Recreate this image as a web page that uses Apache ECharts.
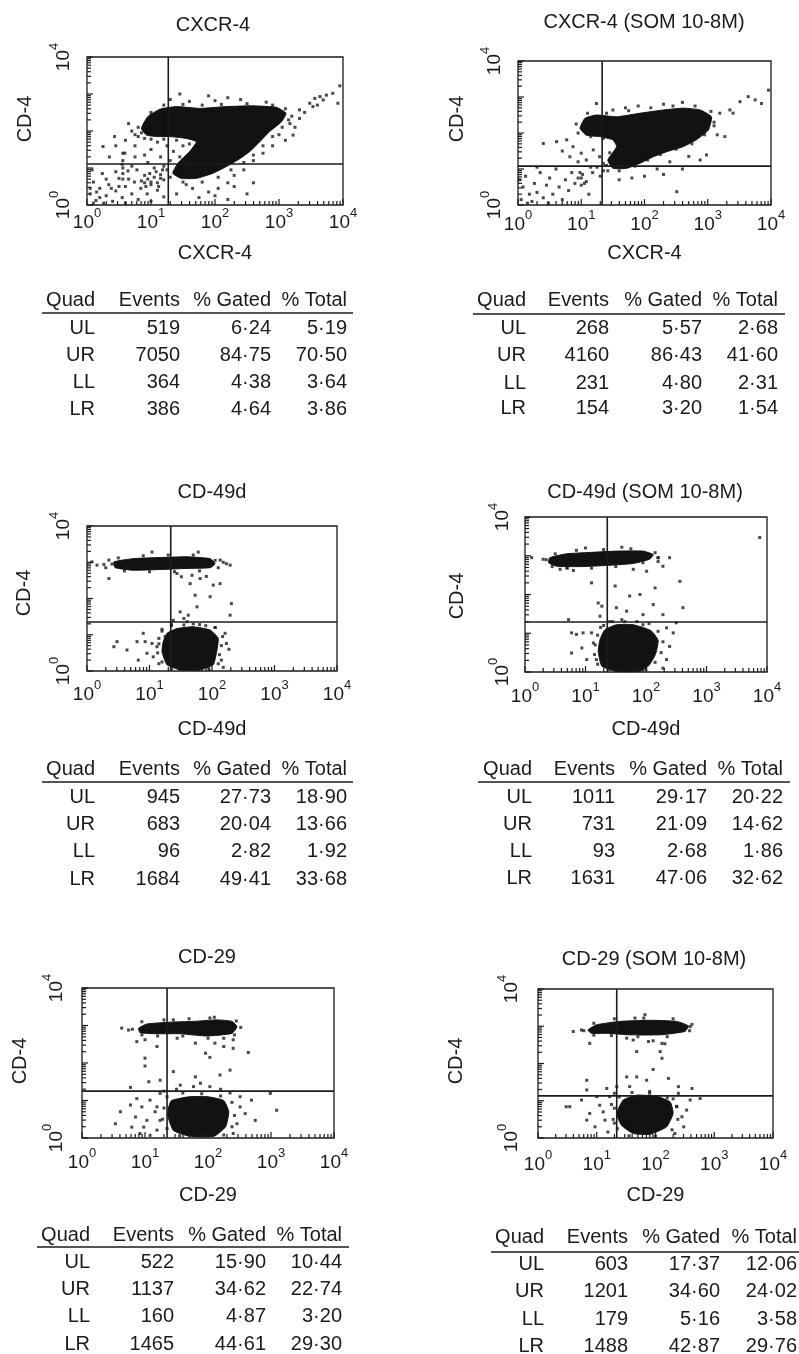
<!DOCTYPE html>
<html>
<head>
<meta charset="utf-8">
<title>CD-4 quadrant plots</title>
<script src="https://cdn.jsdelivr.net/npm/echarts@6/dist/echarts.min.js"></script>
<style>
  html, body { margin: 0; padding: 0; background: #fff; }
  #chart { width: 799px; height: 1354px; }
</style>
</head>
<body>
<div id="chart"></div>
<script>
// panel texts
const titles = ['CXCR-4', 'CXCR-4 (SOM 10-8M)', 'CD-49d', 'CD-49d (SOM 10-8M)', 'CD-29', 'CD-29 (SOM 10-8M)'];
const xNames = ['CXCR-4', 'CXCR-4', 'CD-49d', 'CD-49d', 'CD-29', 'CD-29'];
const yName = 'CD-4';

// quadrant tables
const tableHeader = ['Quad', 'Events', '% Gated', '% Total'];
const quadLabels = ['UL', 'UR', 'LL', 'LR'];
const quadEvents = [
  [519, 7050, 364, 386],
  [268, 4160, 231, 154],
  [945, 683, 96, 1684],
  [1011, 731, 93, 1631],
  [522, 1137, 160, 1465],
  [603, 1201, 179, 1488]
];
const pctGated = [
  [6.24, 84.75, 4.38, 4.64],
  [5.57, 86.43, 4.80, 3.20],
  [27.73, 20.04, 2.82, 49.41],
  [29.17, 21.09, 2.68, 47.06],
  [15.90, 34.62, 4.87, 44.61],
  [17.37, 34.60, 5.16, 42.87]
];
const pctTotal = [
  [5.19, 70.50, 3.64, 3.86],
  [2.68, 41.60, 2.31, 1.54],
  [18.90, 13.66, 1.92, 33.68],
  [20.22, 14.62, 1.86, 32.62],
  [10.44, 22.74, 3.20, 29.30],
  [12.06, 24.02, 3.58, 29.76]
];

// quadrant gates, in decades (log10 of the intensity)
const gateX = [1.27, 1.33, 1.34, 1.36, 1.35, 1.34];
const gateY = [1.11, 1.08, 1.35, 1.29, 1.25, 1.13];

// dense regions (outlines, decades)
const coresCxcr4 = [
  [[0.85,2.07],[0.95,2.39],[1.14,2.59],[1.40,2.66],[1.76,2.61],[2.18,2.66],[2.59,2.68],[2.96,2.64],[3.11,2.48],[3.04,2.25],[2.85,1.98],[2.70,1.71],[2.54,1.44],[2.36,1.22],[2.18,1.04],[1.97,0.86],[1.71,0.72],[1.47,0.72],[1.34,0.86],[1.42,1.13],[1.60,1.44],[1.71,1.71],[1.55,1.80],[1.29,1.85],[1.08,1.85],[0.93,1.89]]
];
const coresCxcr4Som = [
  [[0.98,2.13],[1.06,2.41],[1.24,2.50],[1.56,2.45],[1.93,2.55],[2.30,2.64],[2.61,2.69],[2.88,2.64],[3.06,2.45],[3.01,2.08],[2.82,1.81],[2.61,1.62],[2.35,1.48],[2.14,1.34],[1.93,1.16],[1.72,1.02],[1.50,1.02],[1.42,1.25],[1.56,1.62],[1.50,1.81],[1.29,1.90],[1.08,1.94]]
];
const coresCd49d = [
  [[0.43,3.01],[0.74,3.10],[1.17,3.13],[1.60,3.15],[1.97,3.10],[2.05,2.96],[1.97,2.85],[1.60,2.83],[1.17,2.80],[0.74,2.78],[0.45,2.85]],
  [[1.28,1.04],[1.44,1.17],[1.70,1.22],[1.97,1.13],[2.10,0.90],[2.07,0.49],[2.02,0.17],[1.81,0.03],[1.49,0.03],[1.28,0.17],[1.20,0.53],[1.22,0.81]]
];
const coresCd49dSom = [
  [[0.41,2.95],[0.69,3.05],[1.13,3.09],[1.51,3.12],[1.95,3.12],[2.12,3.03],[2.06,2.91],[1.79,2.80],[1.35,2.75],[0.91,2.72],[0.52,2.73],[0.39,2.82]],
  [[1.32,1.09],[1.51,1.22],[1.79,1.22],[2.08,1.07],[2.20,0.82],[2.16,0.47],[2.05,0.17],[1.90,0.02],[1.51,0.02],[1.27,0.15],[1.21,0.53],[1.24,0.84]]
];
const coresCd29 = [
  [[0.90,2.93],[1.03,3.04],[1.40,3.09],[1.77,3.11],[2.14,3.15],[2.38,3.11],[2.46,2.97],[2.38,2.79],[1.98,2.72],[1.56,2.78],[1.19,2.78],[0.92,2.81]],
  [[1.42,1.00],[1.70,1.10],[2.00,1.10],[2.25,1.00],[2.33,0.70],[2.28,0.30],[2.10,0.05],[1.70,0.05],[1.45,0.20],[1.36,0.60],[1.38,0.85]]
];
const coresCd29Som = [
  [[0.85,2.90],[1.00,3.04],[1.39,3.13],[1.91,3.16],[2.36,3.13],[2.56,3.01],[2.50,2.86],[2.08,2.77],[1.56,2.77],[1.17,2.81],[0.91,2.81]],
  [[1.45,1.02],[1.68,1.15],[2.02,1.12],[2.25,0.97],[2.30,0.66],[2.19,0.30],[1.91,0.10],[1.62,0.12],[1.42,0.34],[1.34,0.66]]
];

// single events outside / at the rim of the dense regions (decades)
const dotsCxcr4 = [
  [0.05,0.3],[0.1,0.62],[0.14,0.12],[0.2,0.45],[0.24,0.85],[0.3,0.25],[0.34,0.55],[0.4,0.1],[0.45,0.38],[0.5,0.72],
  [0.55,0.2],[0.6,0.5],[0.64,0.92],[0.7,0.3],[0.74,0.62],[0.8,0.15],[0.84,0.45],[0.9,0.8],[0.94,0.3],[1.0,0.62],
  [1.05,1.0],[1.1,0.4],[1.15,0.72],[1.2,0.22],[0.55,1.1],[0.35,1.3],[0.75,1.3],[0.95,1.15],[0.26,0.05],[0.08,0.95],
  [0.6,0.05],[1.0,0.1],[0.9,0.6],[0.95,0.7],[1.0,0.55],[1.05,0.75],[1.1,0.6],[1.15,0.82],[0.98,0.85],[1.08,0.9],
  [1.2,0.68],[0.92,0.5],[0.56,0.7],[0.56,0.85],[0.56,1.0],[0.56,1.2],[0.56,1.4],[0.25,1.58],[0.43,1.85],[0.59,1.40],
  [0.45,1.6],[0.7,2.0],[0.65,2.2],[0.75,1.6],[0.8,1.85],[0.6,1.75],[1.0,1.5],[1.15,1.3],[1.25,1.6],[1.35,1.45],
  [1.1,1.7],[1.3,1.2],[0.9,1.35],[1.2,1.05],[1.45,1.3],[1.5,1.6],[3.15,2.3],[3.25,2.1],[3.0,1.9],[2.9,1.6],
  [3.1,1.75],[2.75,1.4],[2.6,1.2],[2.45,0.95],[2.3,0.8],[2.2,0.6],[2.05,0.45],[1.9,0.35],[2.5,0.3],[2.2,0.15],
  [3.32,2.57],[3.48,2.75],[3.64,2.93],[3.74,2.97],[3.84,3.02],[3.95,3.22],[3.92,2.75],[3.53,2.66],[3.32,2.34],[3.22,1.89],
  [3.17,2.2],[3.69,2.84],[3.56,2.88],[3.4,2.5],[3.6,2.7],[1.3,2.85],[1.6,2.8],[2.0,2.82],[2.4,2.85],[2.8,2.78],
  [1.9,2.95],[1.45,3.0],[2.2,2.9],[2.3,0.5],[1.65,0.45],[1.75,0.2],[2.6,0.6],[2.0,0.25],[1.4,0.3],[1.55,0.55],
  [1.0,2.5],[1.2,2.7],[1.5,2.72],[1.8,2.7],[2.1,2.72],[2.5,2.74],[2.9,2.7],[3.1,2.6],[3.2,2.4],[3.05,2.1],
  [2.9,1.85],[2.75,1.6],[2.6,1.35],[2.45,1.15],[2.25,0.95],[2.05,0.75],[1.8,0.62],[1.5,0.62],[1.3,0.75],[1.25,0.95],
  [0.8,2.1],[0.85,1.95],[0.9,1.8],[1.0,1.78],[1.2,1.78],[1.4,1.75],[1.6,1.65],[1.5,1.2],[1.4,1.0],[0.75,1.9],
  [0.15,0.35],[0.3,0.7],[0.45,0.9],[0.65,0.7],[0.7,1.05],[0.85,0.65],[0.2,0.2],[0.38,0.45],[0.1,0.05],[0.5,0.5],
  [0.78,0.95],[1.12,0.5],[1.18,0.95],[0.05,0.45]
];
const dotsCxcr4Som = [
  [0.05,0.15],[0.08,0.5],[0.12,0.8],[0.18,0.3],[0.22,0.1],[0.26,0.6],[0.3,0.35],[0.35,0.9],[0.4,0.2],[0.45,0.55],
  [0.5,0.75],[0.55,0.3],[0.6,1.0],[0.65,0.5],[0.7,0.15],[0.75,0.7],[0.8,0.4],[0.85,0.9],[0.9,0.6],[0.95,0.75],
  [1.0,0.55],[1.02,0.85],[1.08,0.65],[1.12,0.3],[1.18,0.9],[0.3,1.05],[0.02,0.7],[0.15,0.05],[0.48,0.05],[1.25,1.05],
  [1.3,0.8],[1.35,0.95],[1.4,1.1],[0.40,1.71],[0.61,1.76],[0.77,1.81],[0.87,1.62],[1.0,1.44],[1.08,1.25],[0.82,1.34],
  [1.19,1.53],[1.29,1.34],[0.7,1.5],[0.95,1.2],[1.15,1.05],[1.24,2.82],[1.50,2.64],[1.9,2.75],[2.3,2.8],[2.6,2.85],
  [1.7,2.7],[3.19,2.55],[3.35,2.64],[3.51,2.87],[3.64,3.01],[3.75,2.92],[3.85,2.82],[3.96,3.19],[3.40,2.55],[3.27,1.90],
  [2.98,1.39],[2.51,0.37],[2.88,1.25],[3.1,2.2],[3.15,1.95],[2.7,1.35],[2.4,1.2],[2.2,1.0],[2.0,0.8],[1.8,0.75],
  [1.6,0.7],[2.3,0.85],[2.6,1.0],
  [1.1,2.55],[1.4,2.55],[1.75,2.62],[2.1,2.7],[2.45,2.75],[2.8,2.75],[3.05,2.6],[3.1,2.3],[2.95,1.95],[2.75,1.7],
  [2.5,1.55],[2.25,1.4],[2.05,1.25],[1.85,1.08],[1.6,0.95],[1.42,0.95],[1.35,1.15],[1.45,1.45],[1.6,1.75],[1.35,1.85],
  [1.15,1.9],[0.95,2.0],[0.92,2.25],[1.0,0.75],[1.05,0.6],[0.98,0.9]
];
const dotsCd49d = [
  [0.08,3.01],[0.16,2.92],[0.27,2.94],[0.35,3.06],[2.13,3.06],[2.23,2.96],[2.29,2.92],[1.04,3.28],[1.78,3.28],[0.3,2.85],
  [2.18,3.0],[1.49,1.63],[1.62,1.54],[1.76,1.77],[1.60,1.36],[1.73,2.09],[1.97,2.05],[2.02,2.37],[2.13,2.41],[2.31,1.86],
  [2.29,1.54],[1.65,2.41],[1.51,2.60],[1.44,2.69],[0.35,2.55],[1.68,2.64],[1.81,2.55],[1.91,2.61],[1.38,1.40],[1.55,1.45],
  [1.7,1.3],[2.21,1.04],[2.23,0.76],[2.27,0.6],[2.15,0.30],[2.18,0.1],[1.12,0.67],[1.06,0.39],[1.15,0.2],[0.48,0.81],
  [0.64,0.58],[0.80,0.81],[0.82,0.30],[0.93,0.81],[1.04,0.76],[0.96,0.49],[0.43,0.67],[0.90,1.04],[1.15,0.9],[1.2,1.1],
  [1.35,1.25],[1.9,1.25],[2.05,1.2],
  [0.4,2.95],[0.5,3.12],[0.9,3.18],[1.3,3.2],[1.7,3.2],[2.05,3.05],[2.1,2.85],[1.8,2.76],[1.4,2.74],[1.0,2.74],
  [0.6,2.76],[1.2,1.15],[1.35,1.28],[1.55,1.27],[1.8,1.28],[2.05,1.2],[2.17,0.95],[2.15,0.7],[2.12,0.45],[2.1,0.2],
  [1.95,0.05],[1.35,0.05],[1.2,0.25],[1.13,0.5],[1.15,0.75],[1.25,0.95]
];
const dotsCd49dSom = [
  [3.88,3.47],[2.39,2.95],[2.28,2.73],[2.56,2.34],[2.61,1.66],[2.15,2.17],[1.90,2.0],[1.73,1.96],[1.49,2.22],[1.10,2.30],
  [1.21,1.78],[1.27,1.70],[1.24,1.44],[1.51,1.66],[1.68,1.57],[2.12,1.74],[2.28,1.48],[1.95,1.48],[0.11,2.95],[0.30,2.91],
  [0.58,2.65],[0.69,2.69],[0.8,2.62],[1.79,2.65],[2.01,2.60],[2.2,2.85],[0.77,1.01],[0.85,0.97],[0.96,1.01],[1.10,1.01],
  [0.77,0.49],[0.94,0.62],[1.02,0.32],[1.18,0.32],[1.13,0.75],[0.72,1.35],[2.34,1.14],[2.45,1.01],[2.50,1.27],[2.39,0.66],
  [2.34,0.32],[2.28,0.10],[1.45,1.3],[1.6,1.35],[1.85,1.3],[2.05,1.25],[1.3,1.2],[2.2,2.95],[1.0,3.2],[1.6,3.22],
  [0.35,2.9],[0.5,3.05],[0.85,3.14],[1.3,3.16],[1.75,3.18],[2.15,3.08],[2.2,2.95],[1.95,2.82],[1.5,2.72],[1.1,2.68],
  [0.7,2.68],[0.45,2.72],[1.25,1.15],[1.4,1.3],[1.65,1.3],[1.95,1.22],[2.2,1.05],[2.28,0.78],[2.25,0.5],[2.15,0.25],
  [2.0,0.06],[1.4,0.06],[1.2,0.2],[1.15,0.45],[1.16,0.7],[1.2,0.95]
];
const dotsCd29 = [
  [0.87,1.05],[0.95,0.83],[0.85,0.56],[1.03,0.47],[1.16,0.70],[1.08,1.01],[1.24,1.19],[0.77,0.88],[0.61,0.70],[0.53,0.38],
  [0.98,0.29],[1.19,0.21],[1.24,0.47],[0.92,0.12],[1.08,0.07],[0.79,0.29],[1.19,0.83],[2.51,0.83],[2.59,0.65],[2.69,1.01],
  [2.75,0.47],[2.46,0.38],[2.99,1.19],[3.09,0.74],[2.40,0.12],[2.51,1.10],[1.45,1.77],[1.80,1.63],[2.19,1.68],[2.35,1.81],
  [1.06,1.50],[1.24,1.54],[0.77,1.35],[1.00,2.13],[1.00,1.92],[1.96,2.26],[2.03,2.15],[2.64,2.28],[2.40,2.39],[2.25,2.44],
  [1.77,1.37],[1.88,1.46],[2.03,1.37],[1.56,1.41],[0.63,2.93],[0.74,2.88],[0.87,2.57],[1.00,2.62],[1.19,2.44],[1.51,2.66],
  [1.80,2.53],[2.11,2.53],[2.25,2.66],[2.40,2.62],[2.03,3.20],[1.45,3.15],[1.3,1.25],[1.5,1.3],[2.2,1.3],[2.35,1.2],
  [0.8,2.9],[0.95,3.1],[1.3,3.15],[1.7,3.18],[2.1,3.22],[2.45,3.12],[2.52,2.95],[2.42,2.75],[2.0,2.66],[1.6,2.72],
  [1.2,2.72],[0.95,2.75],[1.35,1.1],[1.6,1.2],[1.9,1.18],[2.2,1.12],[2.38,0.95],[2.42,0.6],[2.38,0.3],[2.25,0.08],
  [1.55,0.06],[1.35,0.25],[1.28,0.5],[1.3,0.8]
];
const dotsCd29Som = [
  [0.48,0.84],[0.54,0.84],[0.83,1.29],[0.74,1.02],[0.88,0.66],[0.97,0.30],[1.05,0.88],[1.14,0.48],[1.22,1.11],[1.00,1.11],
  [0.83,0.48],[1.19,0.16],[1.11,0.70],[2.36,0.84],[2.45,0.57],[2.53,0.75],[2.48,0.30],[2.59,1.02],[2.76,1.06],[2.39,1.20],
  [2.33,0.12],[1.51,1.64],[1.68,1.64],[1.85,1.55],[2.22,1.60],[2.39,1.38],[2.62,1.33],[1.96,1.84],[2.11,2.14],[2.08,2.32],
  [1.68,2.32],[2.16,2.53],[0.83,1.55],[1.17,1.33],[1.34,1.38],[1.56,1.38],[0.60,2.86],[0.74,2.90],[0.88,2.54],[1.51,2.68],
  [1.62,2.63],[1.88,2.59],[1.96,2.61],[2.11,2.54],[1.82,3.31],[1.65,3.22],[2.59,2.99],[1.3,1.2],[1.25,0.9],[1.3,0.4],
  [2.3,1.05],[1.9,1.25],
  [0.78,2.88],[0.95,3.08],[1.3,3.2],[1.8,3.22],[2.3,3.2],[2.62,3.05],[2.58,2.88],[2.2,2.72],[1.7,2.72],[1.25,2.75],
  [0.95,2.76],[1.38,1.1],[1.6,1.22],[1.9,1.2],[2.2,1.08],[2.36,0.85],[2.38,0.5],[2.28,0.22],[2.0,0.05],[1.55,0.06],
  [1.35,0.25],[1.28,0.5],[1.3,0.8]
];

const panelCores = [coresCxcr4, coresCxcr4Som, coresCd49d, coresCd49dSom, coresCd29, coresCd29Som];
const panelDots = [dotsCxcr4, dotsCxcr4Som, dotsCd49d, dotsCd49dSom, dotsCd29, dotsCd29Som];

// page layout (pixels)
const panels = [
  { box: [87, 57, 256, 148], title: [213, 25], yName: [25, 119], xLabelMargin: 2, yLabelMargin: 8, xNameGap: 38,
    table: { cols: [95, 180, 271, 347], headY: 300, ruleY: 313, rule: [42, 353], rows: [328, 355, 382, 409] } },
  { box: [518, 61, 253, 144], title: [644, 22], yName: [457, 119], xLabelMargin: 4, yLabelMargin: 8, xNameGap: 38,
    table: { cols: [526, 609, 702, 778], headY: 300, ruleY: 314, rule: [473, 785], rows: [328, 355, 383, 408] } },
  { box: [87, 526, 250, 145], title: [212, 492], yName: [24, 593], xLabelMargin: 8, yLabelMargin: 8, xNameGap: 48,
    table: { cols: [95, 180, 271, 347], headY: 769, ruleY: 782, rule: [42, 353], rows: [797, 824, 851, 879] } },
  { box: [525, 517, 242, 155], title: [645, 492], yName: [457, 596], xLabelMargin: 9, yLabelMargin: 7, xNameGap: 47,
    table: { cols: [532, 615, 707, 783], headY: 769, ruleY: 782, rule: [478, 790], rows: [797, 824, 851, 878] } },
  { box: [82, 988, 252, 150], title: [207, 957], yName: [20, 1061], xLabelMargin: 9, yLabelMargin: 10, xNameGap: 47,
    table: { cols: [90, 174, 266, 342], headY: 1235, ruleY: 1247, rule: [37, 349], rows: [1262, 1289, 1316, 1344] } },
  { box: [538, 989, 235, 149], title: [654, 959], yName: [456, 1061], xLabelMargin: 11, yLabelMargin: 11, xNameGap: 47,
    table: { cols: [544, 628, 720, 797], headY: 1237, ruleY: 1252, rule: [491, 799], rows: [1264, 1291, 1319, 1346] } }
];

const FONT = '"Liberation Sans", Arial, Helvetica, sans-serif';
const INK = '#1b1b1b';

// log ticks: decade marks plus 2..9 inside each decade
const tickPos = [];
for (let d = 0; d < 4; d++) {
  for (let k = 1; k <= 9; k++) tickPos.push(d + Math.log10(k));
}
tickPos.push(4);

const powerLabel = v => '{b|10}{s|' + v + '}';
const powerRich = {
  b: { fontSize: 19, fontFamily: FONT, color: INK },
  s: { fontSize: 13, fontFamily: FONT, color: INK, padding: [0, 0, 18, 0] }
};

const fmt = v => v.toFixed(2).replace('.', '\u00b7');

const grid = [], xAxis = [], yAxis = [], series = [], graphic = [];

panels.forEach((pn, i) => {
  const [l, t, w, h] = pn.box;
  grid.push({ left: l, top: t, width: w, height: h, show: true, borderColor: INK, borderWidth: 1.3 });

  xAxis.push({
    gridIndex: i, type: 'value', min: 0, max: 4, interval: 1,
    name: xNames[i], nameLocation: 'middle', nameGap: pn.xNameGap,
    nameTextStyle: { fontSize: 20, fontFamily: FONT, color: INK },
    axisLine: { show: false }, axisTick: { show: false }, splitLine: { show: false },
    axisLabel: { margin: pn.xLabelMargin, formatter: powerLabel, rich: powerRich }
  });
  yAxis.push({
    gridIndex: i, type: 'value', min: 0, max: 4, interval: 4,
    axisLine: { show: false }, axisTick: { show: false }, splitLine: { show: false },
    axisLabel: { rotate: 90, margin: pn.yLabelMargin, formatter: powerLabel, rich: powerRich }
  });

  const cores = panelCores[i];
  series.push({
    type: 'custom', xAxisIndex: i, yAxisIndex: i, z: 2, silent: true,
    data: cores.map(c => c[0]),
    renderItem: (params, api) => ({
      type: 'polygon',
      shape: { points: cores[params.dataIndex].map(p => api.coord(p)), smooth: 0.15 },
      style: { fill: '#121212', stroke: '#121212', lineWidth: 1 }
    })
  });
  series.push({
    type: 'scatter', xAxisIndex: i, yAxisIndex: i, z: 3, silent: true,
    symbol: 'rect', symbolSize: 3,
    itemStyle: { color: '#1c1c1c' },
    data: panelDots[i]
  });
  series.push({
    type: 'custom', xAxisIndex: i, yAxisIndex: i, z: 4, silent: true,
    data: tickPos.map(p => [p, 0, 0]).concat(tickPos.map(p => [0, p, 1])),
    renderItem: (params, api) => {
      const isY = api.value(2) === 1;
      const v = isY ? api.value(1) : api.value(0);
      const major = Math.abs(v - Math.round(v)) < 1e-6;
      const len = major ? 6 : 4;
      if (isY) {
        const p = api.coord([0, v]);
        return { type: 'line', shape: { x1: p[0], y1: p[1], x2: p[0] + len, y2: p[1] }, style: { stroke: INK, lineWidth: 1.2 } };
      }
      const p = api.coord([v, 0]);
      return { type: 'line', shape: { x1: p[0], y1: p[1], x2: p[0], y2: p[1] - len }, style: { stroke: INK, lineWidth: 1.2 } };
    }
  });
  series.push({
    type: 'custom', xAxisIndex: i, yAxisIndex: i, z: 5, silent: true,
    data: [[gateX[i], gateY[i]]],
    renderItem: (params, api) => {
      const cs = params.coordSys;
      const p = api.coord([api.value(0), api.value(1)]);
      return {
        type: 'group',
        children: [
          { type: 'line', shape: { x1: p[0], y1: cs.y, x2: p[0], y2: cs.y + cs.height }, style: { stroke: INK, lineWidth: 1.6 } },
          { type: 'line', shape: { x1: cs.x, y1: p[1], x2: cs.x + cs.width, y2: p[1] }, style: { stroke: INK, lineWidth: 1.6 } }
        ]
      };
    }
  });

  // title and vertical axis name
  graphic.push({
    type: 'text', x: pn.title[0], y: pn.title[1],
    style: { text: titles[i], font: '20px ' + FONT, fill: INK, align: 'center', verticalAlign: 'middle', textAlign: 'center', textVerticalAlign: 'middle' }
  });
  graphic.push({
    type: 'text', x: pn.yName[0], y: pn.yName[1], rotation: Math.PI / 2,
    style: { text: yName, font: '20px ' + FONT, fill: INK, align: 'center', verticalAlign: 'middle', textAlign: 'center', textVerticalAlign: 'middle' }
  });

  // quadrant statistics table
  const tb = pn.table;
  const cell = (text, x, y) => ({
    type: 'text', x: x, y: y,
    style: { text: String(text), font: '20px ' + FONT, fill: INK, align: 'right', verticalAlign: 'middle', textAlign: 'right', textVerticalAlign: 'middle' }
  });
  tableHeader.forEach((hd, c) => graphic.push(cell(hd, tb.cols[c], tb.headY)));
  graphic.push({
    type: 'line', shape: { x1: tb.rule[0], y1: tb.ruleY, x2: tb.rule[1], y2: tb.ruleY },
    style: { stroke: INK, lineWidth: 1.3 }
  });
  quadLabels.forEach((q, r) => {
    const y = tb.rows[r];
    graphic.push(cell(q, tb.cols[0], y));
    graphic.push(cell(quadEvents[i][r], tb.cols[1], y));
    graphic.push(cell(fmt(pctGated[i][r]), tb.cols[2], y));
    graphic.push(cell(fmt(pctTotal[i][r]), tb.cols[3], y));
  });
});

const chart = echarts.init(document.getElementById('chart'), null, { renderer: 'canvas' });
chart.setOption({
  animation: false,
  backgroundColor: '#fff',
  textStyle: { fontFamily: FONT },
  grid, xAxis, yAxis, series, graphic
});
</script>
</body>
</html>
